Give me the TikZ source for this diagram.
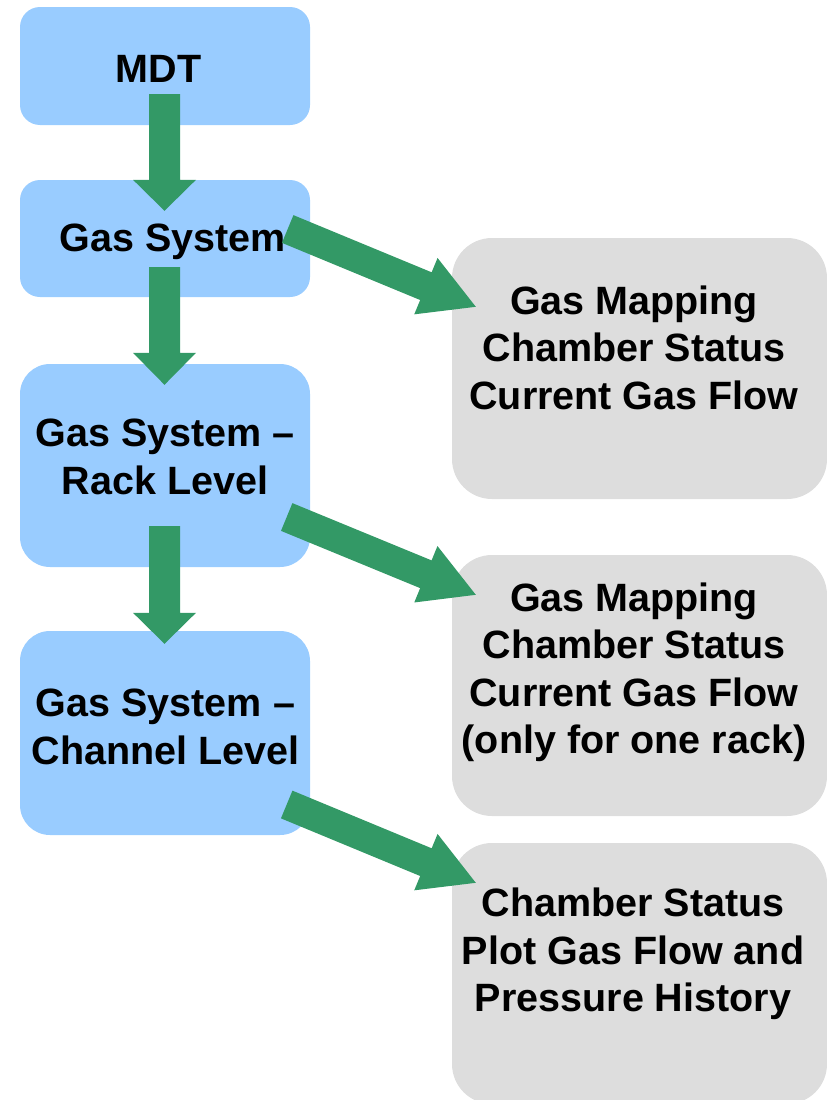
\documentclass[tikz,border=0pt]{standalone}
\usepackage{fontspec}
\setmainfont{Liberation Sans}
\usetikzlibrary{calc}
\definecolor{boxblue}{HTML}{99CCFF}
\definecolor{boxgray}{HTML}{DDDDDD}
\definecolor{arrowgreen}{HTML}{339966}
\tikzset{
  bluebox/.style={fill=boxblue, draw=none, rounded corners=#1, minimum width=290pt, inner sep=0pt},
  graybox/.style={fill=boxgray, draw=none, rounded corners=40pt, minimum width=375pt, minimum height=261pt, inner sep=0pt},
  txt/.style={font=\fontsize{39.5pt}{47.5pt}\selectfont\bfseries, align=center, inner sep=0pt, text=black},
  blockarrow/.style n args={3}{to path={
    ($(\tikztostart)!#1!90:(\tikztotarget)$)
    -- ($($(\tikztotarget)!#3!(\tikztostart)$)!#1!90:(\tikztotarget)$)
    -- ($($(\tikztotarget)!#3!(\tikztostart)$)!#2!90:(\tikztotarget)$)
    -- (\tikztotarget)
    -- ($($(\tikztotarget)!#3!(\tikztostart)$)!#2!-90:(\tikztotarget)$)
    -- ($($(\tikztotarget)!#3!(\tikztostart)$)!#1!-90:(\tikztotarget)$)
    -- ($(\tikztostart)!#1!-90:(\tikztotarget)$)
    -- cycle}},
  varrow/.style={fill=arrowgreen, draw=none},
}
\begin{document}
\begin{tikzpicture}[x=1pt, y=-1pt]
\useasboundingbox (0,0) rectangle (827,1100);
\clip (0,0) rectangle (827,1100);

% blue boxes
\node[bluebox=20pt, minimum height=118pt] (mdt) at (165,66) {};
\node[bluebox=20pt, minimum height=117pt] (gas) at (165,238.5) {};
\node[bluebox=30pt, minimum height=203pt] (rack) at (165,465.5) {};
\node[bluebox=30pt, minimum height=204pt] (chan) at (165,733) {};

% gray boxes
\node[graybox] (g1) at (639.5,368.5) {};
\node[graybox] (g2) at (639.5,685.5) {};
\node[graybox] (g3) at (639.5,973.5) {};

% texts
\node[txt] (tmdt) at (158.5,68.5) {MDT};
\node[txt] (tgas) at (172.5,241.5) {Gas System};
\node[txt] (track) at (165,457) {Gas System --\\Rack Level};
\node[txt] (tchan) at (165.5,727) {Gas System --\\Channel Level};
\node[txt] (tg1) at (634,347.5) {Gas Mapping\\Chamber Status\\Current Gas Flow};
\node[txt] (tg2) at (634,672.5) {Gas Mapping\\Chamber Status\\Current Gas Flow\\(only for one rack)};
\node[txt] (tg3) at (633,954) {Chamber Status\\Plot Gas Flow and\\Pressure History};

% arrow end points
\coordinate (v1s) at ($(mdt.south)+(-0.5,-31)$);
\coordinate (v1e) at ($(gas.north)+(-0.5,31)$);
\coordinate (v2s) at ($(gas.south)+(-0.5,-30)$);
\coordinate (v2e) at ($(rack.north)+(-0.5,21)$);
\coordinate (v3s) at ($(rack.south)+(-0.5,-41)$);
\coordinate (v3e) at ($(chan.north)+(-0.5,13)$);
\coordinate (d1s) at ($(gas.east)+(-22.5,-9.5)$);
\coordinate (d1e) at ($(g1.north west)+(24,69)$);
\coordinate (d2s) at ($(rack.east)+(-23.5,51.5)$);
\coordinate (d2e) at ($(g2.north west)+(24,40)$);
\coordinate (d3s) at ($(chan.east)+(-23.5,71.5)$);
\coordinate (d3e) at ($(g3.north west)+(24,40)$);

% arrows
\fill[varrow] (v1s) to[blockarrow={15.5pt}{31.5pt}{31pt}] (v1e);
\fill[varrow] (v2s) to[blockarrow={15.5pt}{31.5pt}{32pt}] (v2e);
\fill[varrow] (v3s) to[blockarrow={15.5pt}{31.5pt}{31pt}] (v3e);
\fill[varrow] (d1s) to[blockarrow={15pt}{30.5pt}{54pt}] (d1e);
\fill[varrow] (d2s) to[blockarrow={15pt}{30.5pt}{54pt}] (d2e);
\fill[varrow] (d3s) to[blockarrow={15pt}{30.5pt}{54pt}] (d3e);
\end{tikzpicture}
\end{document}
